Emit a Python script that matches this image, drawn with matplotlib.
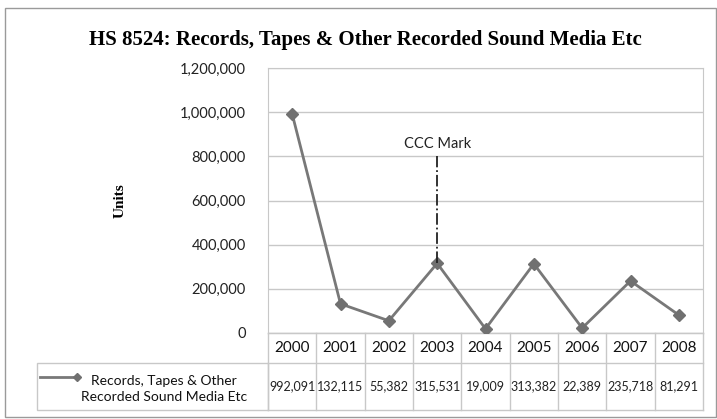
import matplotlib
matplotlib.use('Agg')
import matplotlib.pyplot as plt
from matplotlib.transforms import blended_transform_factory
from matplotlib.patches import Rectangle
from matplotlib.lines import Line2D

# --- Data ---
years = ['2000', '2001', '2002', '2003', '2004', '2005', '2006', '2007', '2008']
units = [992091, 132115, 55382, 315531, 19009, 313382, 22389, 235718, 81291]
value_labels = ['992,091', '132,115', '55,382', '315,531', '19,009',
                '313,382', '22,389', '235,718', '81,291']
yticks = [0, 200000, 400000, 600000, 800000, 1000000, 1200000]
ytick_labels = ['0', '200,000', '400,000', '600,000', '800,000', '1,000,000', '1,200,000']
series_name = 'Records, Tapes & Other\nRecorded Sound Media Etc'
mark_year = 3          # index of 2003
mark_top = 800000
mark_text = 'CCC Mark'

W, H = 717, 419
fig = plt.figure(figsize=(W / 100, H / 100), dpi=100)
fig.patch.set_facecolor('white')

def fx(px):
    return px / W

def fy(py):
    return 1 - py / H

# outer chart border
fig.add_artist(Rectangle((fx(5), fy(417)), fx(711), 409 / H, transform=fig.transFigure,
                         fill=False, edgecolor='#9a9a9a', linewidth=1.0))

ax = fig.add_axes([fx(268), fy(333), fx(703) - fx(268), fy(68) - fy(333)])
x = list(range(len(years)))
ax.set_xlim(-0.5, len(years) - 0.5)
ax.set_ylim(0, 1200000)

ax.plot(x, units, color='#787878', linewidth=2, marker='D', markersize=6,
        markerfacecolor='#707070', markeredgecolor='#707070', zorder=3)

# dash-dot marker line above 2003
ax.plot([mark_year, mark_year], [units[mark_year], mark_top], color='#222222',
        linewidth=1.3, linestyle='-.', zorder=4)
ax.text(mark_year, mark_top + 25000, mark_text, ha='center', va='bottom',
        fontsize=10.5, family='Lato', color='#222222')

ax.set_yticks(yticks)
ax.set_yticklabels(ytick_labels, family='Lato', fontsize=10.5, color='#222222')
ax.tick_params(axis='y', length=0, pad=16)
ax.set_xticks([])
ax.grid(axis='y', color='#c8c8c8', linewidth=1)
ax.set_axisbelow(True)
for side in ax.spines.values():
    side.set_color('#c8c8c8')

ax.set_ylabel('Units', family='Liberation Serif', fontweight='bold', fontsize=11,
              labelpad=38)

fig.text(fx(365), fy(40), 'HS 8524: Records, Tapes & Other Recorded Sound Media Etc',
         ha='center', va='center', family='Liberation Serif', fontweight='bold',
         fontsize=15)

# --- Data table under the plot ---
trans = blended_transform_factory(ax.transData, ax.transAxes)
ax_h = 333 - 68
row1 = -30 / ax_h     # header row bottom
row2 = -77 / ax_h     # value row bottom
grid_kw = dict(color='#c8c8c8', linewidth=1, transform=trans, clip_on=False)
for yy in [0, row1, row2]:
    ax.add_line(Line2D([-0.5, len(years) - 0.5], [yy, yy], **grid_kw))
for i in range(len(years) + 1):
    ax.add_line(Line2D([i - 0.5, i - 0.5], [0, row2], **grid_kw))

for i, yr in enumerate(years):
    ax.text(i, row1 / 2, yr, transform=trans, ha='center', va='center',
            fontsize=11, family='Lato', color='#111111', clip_on=False)
    ax.text(i, (row1 + row2) / 2, value_labels[i], transform=trans, ha='center',
            va='center', fontsize=9, family='Lato', color='#222222', clip_on=False)

# legend cell
fig.add_artist(Rectangle((fx(37), fy(410)), fx(268) - fx(37), 47 / H,
                         transform=fig.transFigure, fill=False,
                         edgecolor='#c8c8c8', linewidth=1))
fig.add_artist(Line2D([fx(40), fx(77)], [fy(377), fy(377)], transform=fig.transFigure,
                      color='#787878', linewidth=2, marker='D', markersize=4,
                      markevery=[1], markerfacecolor='#707070', markeredgecolor='#707070'))
fig.text(fx(164), fy(389), series_name, ha='center', va='center', family='Lato',
         fontsize=10, color='#111111', linespacing=1.35)

fig.savefig('out.png', dpi=100, facecolor='white')
